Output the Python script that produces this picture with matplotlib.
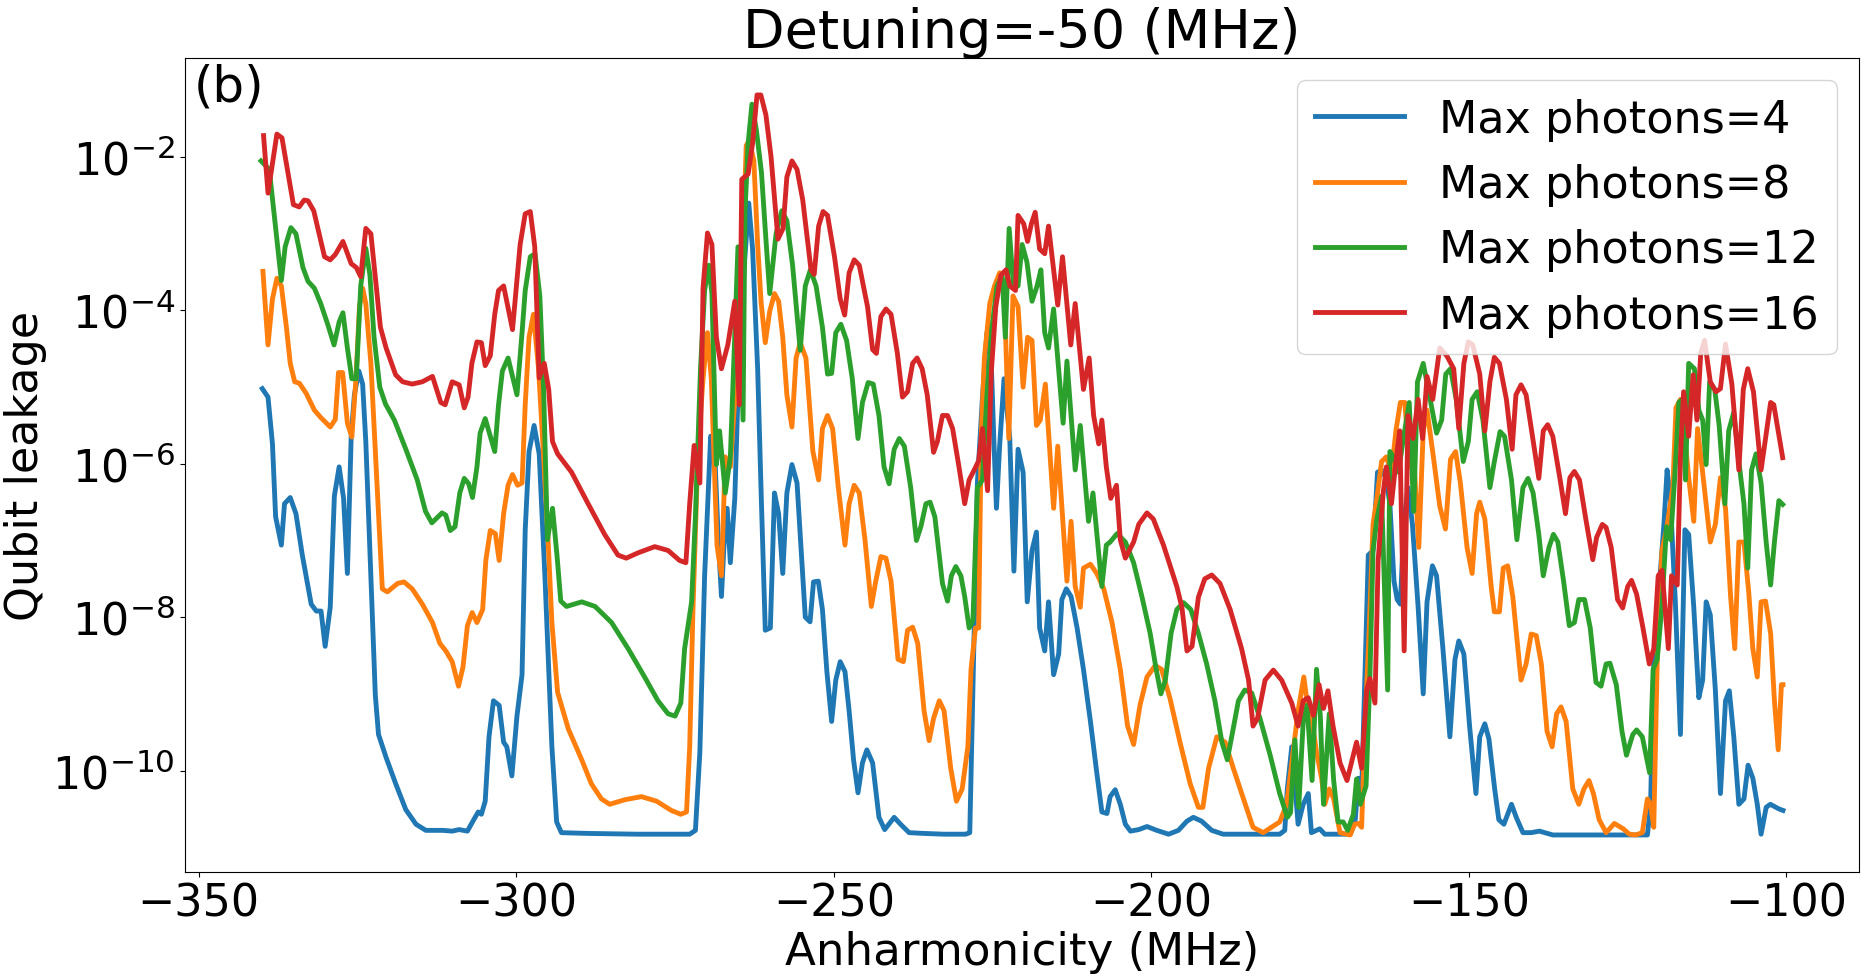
import numpy as np
import matplotlib
matplotlib.use("Agg")
import matplotlib.pyplot as plt

# ---- data (x in MHz, y given as log10 of leakage) ----
x_n4 = [-340.0, -339.1, -338.4, -337.9, -337.0, -336.5, -335.6, -334.7, -333.7, -332.3, -331.5, -330.75, -330.1, -329.3, -328.65, -327.9, -327.2, -326.6, -326.0, -325.5, -324.8, -324.2, -323.7, -322.9, -322.2, -321.7, -320.5, -319.0, -317.4, -315.8, -314.25, -311.6, -310.1, -309.0, -307.7, -306.9, -306.0, -305.5, -304.9, -304.3, -303.6, -302.7, -302.0, -301.5, -300.7, -299.9, -299.1, -298.6, -298.0, -297.2, -296.4, -295.5, -294.4, -293.65, -292.9, -288.7, -280.8, -272.7, -271.8, -271.1, -270.35, -269.4, -268.8, -268.2, -267.7, -267.3, -266.8, -266.3, -265.6, -264.9, -264.1, -263.4, -262.8, -262.0, -261.45, -260.8, -260.0, -259.35, -258.7, -258.05, -257.4, -256.6, -255.8, -255.2, -254.5, -253.75, -253.2, -252.45, -251.8, -251.1, -250.35, -249.7, -249.0, -248.25, -247.6, -246.9, -246.2, -245.5, -244.8, -243.9, -242.9, -242.0, -240.5, -239.5, -238.15, -235.8, -232.65, -229.25, -228.6, -227.9, -227.4, -226.6, -225.9, -225.4, -224.8, -224.4, -223.9, -223.2, -222.3, -221.65, -221.0, -220.2, -219.55, -218.8, -218.1, -217.6, -216.8, -216.2, -215.4, -214.6, -214.1, -213.4, -212.65, -211.7, -210.7, -209.6, -208.6, -207.8, -207.0, -206.5, -205.7, -204.9, -204.1, -203.3, -202.0, -200.7, -199.15, -197.3, -195.75, -194.4, -193.4, -192.1, -190.5, -188.7, -184.5, -179.8, -179.0, -178.6, -177.9, -177.4, -176.9, -176.1, -175.3, -174.8, -173.5, -172.7, -168.7, -167.9, -167.4, -166.9, -166.4, -165.85, -165.1, -164.4, -163.75, -163.1, -162.45, -161.8, -161.3, -160.8, -160.25, -159.6, -158.9, -158.0, -157.2, -156.6, -155.75, -155.1, -154.1, -153.0, -152.2, -151.6, -150.8, -149.9, -148.9, -148.3, -147.5, -146.85, -145.95, -145.3, -144.5, -143.3, -142.55, -141.5, -140.2, -138.9, -136.8, -131.0, -121.9, -121.4, -120.9, -120.1, -119.3, -118.8, -118.3, -117.5, -116.7, -116.0, -115.4, -114.6, -113.8, -113.2, -112.65, -112.0, -111.2, -110.4, -109.6, -109.0, -108.3, -107.5, -106.7, -106.05, -105.3, -104.6, -104.0, -103.2, -102.55, -101.2, -100.55]
logy_n4 = [-5.02, -5.13, -5.74, -6.69, -7.06, -6.52, -6.44, -6.65, -7.19, -7.83, -7.92, -7.92, -8.38, -7.87, -6.42, -6.04, -6.45, -7.43, -5.64, -5.10, -4.79, -4.96, -5.71, -7.46, -9.02, -9.53, -9.83, -10.17, -10.51, -10.70, -10.78, -10.78, -10.79, -10.77, -10.79, -10.67, -10.54, -10.57, -10.40, -9.56, -9.09, -9.15, -9.63, -9.69, -10.07, -9.29, -8.75, -6.86, -5.84, -5.50, -5.87, -7.46, -9.69, -10.67, -10.81, -10.82, -10.83, -10.83, -10.78, -9.76, -7.46, -5.64, -5.77, -6.99, -7.73, -7.06, -6.58, -7.29, -6.45, -4.56, -3.41, -2.60, -3.20, -4.76, -6.38, -8.17, -8.14, -6.38, -6.65, -7.43, -6.38, -6.01, -6.25, -7.06, -8.00, -8.06, -7.54, -7.53, -7.90, -8.71, -9.36, -8.82, -8.58, -8.71, -9.22, -9.86, -10.29, -9.90, -9.73, -9.90, -10.61, -10.77, -10.61, -10.70, -10.81, -10.82, -10.83, -10.83, -10.81, -8.14, -6.25, -5.13, -4.29, -4.22, -5.71, -6.58, -5.77, -4.89, -5.67, -7.40, -5.81, -6.11, -7.80, -7.13, -6.89, -8.14, -8.44, -7.80, -8.75, -8.48, -7.77, -7.63, -7.73, -8.14, -8.68, -9.36, -10.03, -10.54, -10.56, -10.34, -10.25, -10.44, -10.70, -10.79, -10.77, -10.73, -10.78, -10.83, -10.78, -10.66, -10.61, -10.66, -10.78, -10.83, -10.83, -10.83, -10.78, -10.24, -9.69, -10.20, -10.70, -10.44, -10.30, -10.81, -10.76, -10.83, -10.83, -10.64, -10.10, -10.30, -8.82, -7.19, -7.13, -6.11, -6.08, -6.18, -6.52, -7.53, -7.77, -7.83, -6.79, -6.31, -6.79, -7.87, -9.00, -7.80, -7.33, -7.46, -8.41, -9.56, -8.55, -8.31, -8.48, -9.42, -10.30, -9.56, -9.39, -9.59, -10.24, -10.64, -10.70, -10.44, -10.61, -10.81, -10.81, -10.79, -10.84, -10.84, -10.84, -10.44, -8.61, -7.67, -6.79, -6.08, -6.45, -7.80, -9.53, -6.86, -6.92, -7.87, -9.05, -8.82, -7.80, -7.97, -8.95, -10.30, -9.09, -8.96, -9.56, -10.44, -10.37, -9.93, -10.10, -10.44, -10.83, -10.48, -10.44, -10.50, -10.52]

x_n8 = [-339.9, -339.1, -338.4, -337.7, -337.0, -336.2, -335.6, -334.9, -334.15, -333.1, -331.8, -330.75, -329.3, -328.5, -328.0, -327.35, -326.6, -325.9, -325.25, -324.7, -324.2, -323.7, -322.9, -321.9, -321.1, -320.3, -318.7, -317.7, -316.4, -314.8, -313.2, -312.05, -311.1, -310.1, -309.1, -308.4, -307.7, -306.95, -306.2, -305.3, -304.8, -304.1, -303.3, -302.7, -302.0, -301.3, -300.6, -299.8, -299.1, -298.6, -298.0, -297.3, -296.5, -295.7, -295.0, -294.4, -293.5, -292.9, -291.8, -289.7, -288.2, -286.6, -285.3, -282.9, -280.3, -277.9, -275.6, -274.1, -273.2, -272.7, -272.2, -271.4, -270.6, -269.9, -269.3, -268.8, -268.4, -267.7, -267.1, -266.3, -265.5, -264.9, -264.3, -263.8, -263.3, -262.6, -262.0, -261.45, -260.8, -260.1, -259.35, -258.7, -258.05, -257.4, -256.6, -255.95, -255.3, -254.4, -253.3, -252.4, -251.8, -251.0, -250.2, -249.3, -248.25, -247.6, -246.8, -246.0, -245.1, -244.1, -243.4, -242.6, -241.8, -241.0, -239.9, -239.05, -238.4, -237.6, -236.8, -235.8, -235.0, -234.3, -233.4, -232.65, -231.6, -230.7, -229.8, -228.9, -228.4, -227.7, -227.2, -226.8, -226.3, -225.45, -224.7, -223.9, -223.2, -222.45, -221.8, -221.0, -220.2, -219.5, -218.8, -218.1, -217.5, -216.7, -215.4, -214.75, -213.3, -212.65, -212.0, -211.2, -210.7, -209.6, -208.6, -207.5, -206.2, -204.9, -203.75, -202.8, -201.8, -200.7, -199.4, -198.4, -197.1, -195.5, -193.9, -192.6, -191.9, -191.0, -189.7, -188.4, -187.1, -185.5, -184.0, -182.4, -181.1, -179.8, -178.7, -177.9, -176.9, -176.0, -175.3, -174.7, -174.0, -173.2, -172.7, -172.0, -171.3, -170.3, -168.7, -168.0, -167.4, -166.9, -166.4, -165.7, -165.1, -164.5, -163.75, -163.0, -162.2, -161.5, -160.8, -160.1, -159.3, -158.8, -157.9, -157.2, -156.6, -155.6, -154.6, -153.7, -152.9, -152.1, -151.35, -150.3, -149.5, -148.8, -148.3, -147.5, -146.5, -146.0, -145.2, -144.6, -143.9, -143.1, -141.8, -141.0, -140.2, -139.4, -138.6, -137.7, -136.9, -136.2, -135.5, -134.7, -133.65, -132.7, -131.9, -131.1, -130.4, -129.5, -128.4, -127.1, -125.7, -124.75, -123.75, -122.7, -121.9, -121.4, -120.9, -120.35, -119.6, -118.9, -118.4, -117.9, -117.4, -116.7, -115.9, -115.4, -114.6, -114.0, -113.3, -112.0, -111.2, -110.4, -109.6, -108.8, -108.15, -107.5, -106.7, -105.95, -105.3, -104.6, -104.0, -103.3, -102.5, -101.9, -101.3, -100.8, -100.55]
logy_n8 = [-3.49, -4.45, -3.85, -3.58, -3.68, -4.22, -4.69, -4.93, -4.95, -5.08, -5.30, -5.40, -5.52, -5.42, -4.81, -4.81, -5.47, -5.65, -4.89, -3.95, -3.71, -3.91, -4.69, -6.31, -7.63, -7.67, -7.56, -7.54, -7.63, -7.83, -8.07, -8.34, -8.44, -8.58, -8.90, -8.65, -8.11, -7.94, -8.07, -7.90, -7.26, -6.87, -6.91, -7.26, -6.65, -6.28, -6.14, -6.28, -6.25, -5.23, -4.35, -4.05, -4.76, -5.91, -6.99, -8.07, -8.98, -9.15, -9.46, -9.86, -10.17, -10.37, -10.44, -10.38, -10.34, -10.40, -10.52, -10.57, -10.54, -9.69, -7.94, -5.84, -4.89, -4.29, -4.89, -6.11, -7.06, -7.46, -5.91, -6.04, -5.03, -4.35, -3.14, -1.85, -1.78, -2.05, -3.14, -3.90, -4.42, -4.01, -3.78, -3.88, -4.35, -5.10, -5.52, -4.62, -4.42, -4.62, -5.84, -6.21, -5.54, -5.37, -5.54, -6.31, -7.06, -6.52, -6.28, -6.38, -6.99, -7.86, -7.53, -7.21, -7.23, -7.53, -8.55, -8.58, -8.17, -8.13, -8.34, -9.22, -9.61, -9.32, -9.09, -9.22, -9.97, -10.40, -10.24, -9.69, -8.68, -8.14, -8.14, -5.64, -4.62, -3.91, -3.68, -3.51, -3.68, -5.67, -3.81, -3.95, -5.00, -4.35, -4.39, -5.50, -5.43, -4.96, -6.58, -5.77, -7.53, -6.75, -7.60, -7.87, -7.36, -7.31, -7.43, -7.63, -8.07, -8.68, -9.42, -9.66, -9.15, -8.78, -8.63, -8.68, -9.05, -9.63, -10.17, -10.48, -10.48, -9.97, -9.56, -9.63, -9.97, -10.37, -10.74, -10.81, -10.74, -10.67, -10.44, -9.90, -9.22, -8.78, -9.22, -9.36, -9.76, -10.10, -10.44, -10.24, -10.37, -10.81, -10.84, -10.70, -10.69, -10.74, -9.49, -8.14, -6.79, -6.45, -5.97, -5.91, -6.11, -5.57, -5.20, -5.20, -6.04, -5.74, -7.09, -5.57, -5.30, -5.91, -6.55, -6.85, -5.94, -5.84, -6.25, -7.09, -7.43, -6.65, -6.50, -6.72, -7.60, -7.93, -7.93, -7.36, -7.33, -7.73, -8.82, -8.61, -8.22, -8.24, -8.61, -9.49, -9.69, -9.26, -9.17, -9.36, -10.24, -10.44, -10.24, -10.13, -10.30, -10.64, -10.81, -10.69, -10.76, -10.83, -10.84, -10.81, -10.37, -10.44, -10.74, -8.55, -7.13, -6.86, -6.58, -6.31, -5.27, -5.16, -5.74, -6.18, -6.75, -5.54, -6.04, -7.02, -6.79, -6.18, -6.58, -7.73, -8.41, -7.02, -7.02, -7.67, -8.41, -8.78, -7.80, -7.79, -8.21, -9.09, -9.73, -8.88, -8.88]

x_n12 = [-340.2, -338.9, -337.8, -337.0, -336.4, -335.5, -334.7, -333.6, -332.8, -331.8, -330.8, -329.7, -328.7, -327.9, -327.3, -326.6, -325.9, -325.2, -324.5, -323.7, -323.05, -322.4, -321.5, -320.6, -319.2, -317.4, -315.6, -314.3, -313.3, -311.7, -311.1, -310.4, -309.65, -308.9, -308.2, -307.5, -306.9, -306.2, -305.7, -304.9, -304.1, -303.4, -302.8, -302.2, -301.3, -300.6, -299.9, -299.1, -298.6, -297.8, -297.05, -296.3, -295.7, -295.1, -294.3, -293.6, -293.0, -292.1, -289.7, -287.6, -285.0, -282.4, -279.8, -277.7, -276.1, -275.0, -274.1, -273.5, -272.4, -271.8, -271.0, -270.35, -269.7, -269.2, -268.5, -268.0, -267.1, -266.3, -265.1, -264.3, -264.0, -263.5, -262.9, -262.2, -261.4, -260.7, -260.1, -259.1, -258.2, -257.4, -256.5, -255.3, -254.5, -253.7, -252.8, -251.8, -251.0, -250.35, -249.7, -248.9, -248.0, -247.1, -246.2, -245.5, -244.6, -243.8, -242.9, -242.1, -241.3, -240.5, -239.7, -238.9, -237.9, -237.0, -236.3, -235.5, -234.85, -234.1, -232.9, -232.1, -231.5, -230.8, -230.0, -229.4, -228.7, -228.1, -227.4, -226.6, -225.9, -225.1, -224.3, -223.5, -223.0, -222.4, -221.7, -221.0, -220.35, -219.6, -218.8, -218.0, -217.4, -216.8, -216.2, -215.4, -213.9, -213.3, -212.0, -211.2, -209.9, -209.2, -207.8, -207.1, -206.5, -205.4, -204.1, -202.8, -201.5, -200.2, -199.25, -198.5, -197.8, -196.9, -196.0, -194.95, -193.8, -192.6, -191.3, -190.0, -188.9, -188.05, -187.2, -186.3, -185.3, -184.2, -182.9, -181.3, -179.8, -178.6, -178.1, -177.4, -176.8, -176.1, -175.5, -174.7, -174.0, -173.4, -172.9, -172.0, -171.3, -170.6, -169.8, -169.1, -168.2, -167.7, -167.1, -166.2, -165.6, -165.1, -164.5, -163.75, -162.8, -162.45, -161.9, -161.1, -160.4, -159.4, -158.7, -158.1, -157.2, -156.4, -155.1, -154.3, -153.65, -152.9, -152.0, -150.9, -150.1, -149.5, -148.7, -147.8, -146.7, -146.0, -145.1, -144.4, -143.3, -142.45, -141.5, -140.7, -139.9, -139.0, -138.3, -137.4, -136.7, -136.0, -135.1, -134.2, -133.4, -132.7, -131.8, -130.9, -130.0, -129.2, -128.4, -127.8, -126.8, -125.9, -125.2, -124.2, -123.6, -122.7, -121.55, -121.0, -120.35, -119.6, -118.9, -118.25, -117.6, -116.95, -116.4, -115.9, -115.4, -114.5, -113.8, -113.2, -112.65, -112.1, -111.3, -110.6, -109.7, -109.1, -108.3, -107.5, -106.7, -106.1, -105.5, -104.8, -104.0, -103.2, -102.5, -101.9, -101.2, -100.6]
logy_n12 = [-2.05, -2.16, -3.00, -3.61, -3.17, -2.92, -3.00, -3.44, -3.62, -3.71, -3.91, -4.18, -4.45, -4.15, -4.03, -4.49, -4.89, -4.89, -3.68, -3.19, -3.54, -4.35, -5.00, -5.22, -5.43, -5.81, -6.21, -6.62, -6.77, -6.64, -6.67, -6.87, -6.82, -6.38, -6.19, -6.26, -6.44, -6.04, -5.60, -5.41, -5.64, -5.84, -5.23, -4.79, -4.62, -4.86, -5.10, -4.29, -3.74, -3.30, -3.26, -3.81, -5.03, -6.99, -6.58, -7.19, -7.79, -7.86, -7.80, -7.86, -8.07, -8.41, -8.78, -9.09, -9.26, -9.29, -9.12, -8.41, -7.80, -6.69, -4.76, -3.74, -3.41, -3.78, -6.01, -5.57, -6.38, -5.91, -3.17, -5.43, -2.73, -1.82, -1.31, -1.65, -2.20, -3.07, -3.78, -3.00, -2.70, -2.83, -3.41, -4.52, -3.68, -3.47, -3.68, -4.22, -4.83, -4.82, -4.29, -4.18, -4.39, -4.89, -5.67, -5.20, -4.94, -4.96, -5.37, -6.04, -6.26, -5.81, -5.67, -5.77, -6.31, -7.00, -6.82, -6.52, -6.50, -6.69, -7.56, -7.79, -7.46, -7.34, -7.46, -7.73, -8.14, -8.04, -6.31, -6.21, -5.10, -4.22, -3.68, -3.54, -4.35, -2.93, -3.71, -3.68, -3.14, -3.37, -3.88, -3.68, -3.47, -4.29, -4.49, -3.98, -5.47, -4.66, -6.08, -5.50, -6.75, -6.38, -7.60, -7.06, -7.02, -6.91, -7.02, -7.29, -7.73, -8.21, -8.68, -9.00, -8.82, -8.21, -7.90, -7.81, -7.90, -8.21, -8.61, -9.09, -9.63, -9.86, -9.49, -9.09, -8.95, -8.99, -9.32, -9.80, -10.30, -10.61, -10.55, -9.60, -10.48, -9.36, -9.15, -10.13, -8.68, -9.29, -10.44, -9.26, -10.13, -10.67, -10.67, -10.78, -10.57, -10.11, -10.44, -10.20, -8.79, -7.13, -6.72, -6.42, -8.95, -5.84, -5.91, -6.11, -5.71, -5.20, -6.62, -4.93, -4.69, -5.03, -5.60, -5.43, -4.83, -4.76, -5.16, -5.97, -5.71, -5.16, -5.06, -5.43, -6.31, -5.97, -5.58, -5.64, -6.21, -6.99, -6.31, -6.19, -6.38, -6.92, -7.46, -7.09, -6.92, -7.02, -7.53, -8.11, -8.07, -7.77, -7.77, -8.14, -8.85, -8.90, -8.61, -8.60, -8.88, -9.49, -9.80, -9.53, -9.47, -9.56, -10.03, -8.68, -8.55, -7.84, -6.82, -6.99, -6.18, -5.20, -5.16, -6.21, -4.69, -4.76, -5.30, -5.43, -6.01, -4.93, -5.03, -5.50, -6.52, -5.57, -5.33, -5.97, -6.52, -7.36, -6.08, -5.87, -6.25, -7.02, -7.58, -7.02, -6.48, -6.53]

x_n16 = [-339.8, -339.1, -337.7, -336.9, -335.1, -334.2, -333.4, -332.8, -331.9, -330.2, -329.3, -328.5, -327.3, -326.0, -325.2, -324.5, -323.7, -322.9, -321.4, -320.5, -319.0, -317.9, -316.4, -314.8, -313.2, -311.9, -311.2, -310.1, -309.0, -308.2, -307.6, -307.0, -306.2, -305.5, -304.9, -304.1, -303.4, -302.8, -302.0, -300.6, -299.4, -298.6, -297.8, -297.1, -296.4, -295.6, -294.9, -294.3, -293.5, -291.3, -288.7, -286.1, -284.0, -282.7, -280.8, -278.2, -276.1, -274.3, -273.3, -272.7, -272.0, -271.1, -270.6, -269.9, -269.2, -268.5, -267.7, -266.7, -265.6, -264.9, -264.5, -263.5, -262.8, -262.1, -261.5, -260.7, -259.9, -258.8, -258.0, -257.4, -256.6, -255.8, -254.9, -253.6, -253.1, -252.4, -251.7, -251.0, -249.9, -249.0, -248.3, -247.6, -246.8, -246.0, -244.7, -243.9, -243.3, -242.6, -241.8, -241.0, -240.0, -239.2, -238.4, -237.6, -236.9, -236.1, -235.3, -234.3, -233.7, -232.9, -232.1, -231.3, -230.3, -229.4, -228.7, -227.9, -227.2, -226.6, -225.8, -225.2, -224.5, -223.7, -222.9, -222.3, -221.4, -221.0, -220.1, -219.5, -218.9, -218.3, -217.6, -216.8, -216.2, -214.75, -214.0, -212.7, -212.0, -210.7, -209.8, -209.1, -208.3, -207.8, -207.1, -206.4, -205.5, -204.9, -204.1, -202.8, -202.0, -200.7, -199.7, -198.1, -196.0, -195.2, -194.4, -193.6, -192.6, -191.6, -190.5, -189.2, -187.6, -185.8, -184.7, -184.0, -183.3, -182.1, -180.8, -179.5, -177.9, -176.9, -176.1, -175.3, -174.5, -173.6, -172.9, -172.2, -171.4, -170.3, -169.2, -167.7, -166.9, -166.1, -165.6, -164.8, -164.3, -163.5, -163.0, -162.2, -161.5, -160.9, -160.2, -159.6, -158.8, -158.0, -157.3, -156.6, -155.7, -154.6, -153.5, -152.4, -151.6, -150.8, -150.1, -149.4, -148.3, -147.5, -146.7, -146.0, -145.2, -144.1, -143.2, -142.6, -141.8, -141.0, -140.0, -139.0, -138.3, -137.6, -136.8, -135.7, -134.8, -134.1, -133.4, -132.6, -131.6, -130.5, -129.9, -129.0, -128.4, -127.6, -126.6, -125.8, -125.0, -124.4, -123.6, -122.6, -121.6, -120.9, -120.2, -119.6, -118.6, -118.1, -117.2, -116.7, -116.2, -115.4, -114.7, -114.1, -113.5, -112.9, -112.0, -111.1, -110.4, -109.6, -108.6, -107.5, -106.8, -106.1, -105.2, -104.0, -102.5, -102.0, -100.6]
logy_n16 = [-1.72, -2.47, -1.70, -1.75, -2.62, -2.65, -2.56, -2.57, -2.70, -3.30, -3.34, -3.27, -3.10, -3.39, -3.44, -3.56, -2.93, -3.00, -4.22, -4.49, -4.84, -4.93, -4.96, -4.93, -4.86, -5.20, -5.23, -4.93, -4.97, -5.27, -5.13, -4.69, -4.41, -4.42, -4.72, -4.59, -4.05, -3.74, -3.68, -4.25, -3.14, -2.74, -2.71, -3.17, -4.88, -4.69, -5.03, -5.71, -5.87, -6.11, -6.52, -6.92, -7.19, -7.23, -7.16, -7.08, -7.13, -7.26, -7.29, -6.52, -5.76, -6.25, -3.71, -2.99, -3.14, -4.35, -4.76, -4.45, -3.88, -5.23, -2.29, -2.22, -1.82, -1.19, -1.19, -1.45, -1.99, -3.07, -2.93, -2.26, -2.05, -2.16, -2.56, -3.47, -3.53, -2.90, -2.71, -2.76, -3.30, -3.85, -4.06, -3.51, -3.34, -3.41, -3.95, -4.51, -4.56, -4.08, -3.98, -4.05, -4.56, -5.13, -5.06, -4.69, -4.62, -4.76, -5.10, -5.85, -5.71, -5.37, -5.37, -5.54, -6.04, -6.52, -6.21, -6.08, -5.96, -5.54, -6.35, -4.79, -3.95, -3.54, -3.47, -3.68, -3.74, -2.76, -2.87, -3.10, -2.87, -2.72, -3.20, -3.26, -2.90, -3.93, -3.30, -4.45, -3.91, -5.03, -4.62, -5.37, -5.74, -5.43, -6.04, -6.45, -6.28, -6.99, -7.23, -7.02, -6.79, -6.64, -6.72, -7.06, -7.60, -7.87, -8.44, -8.38, -7.74, -7.50, -7.45, -7.56, -7.90, -8.41, -8.82, -9.42, -9.32, -8.82, -8.69, -8.82, -9.12, -9.42, -9.09, -9.05, -9.28, -8.88, -9.19, -8.96, -9.42, -9.90, -10.13, -9.63, -9.97, -8.95, -8.80, -9.12, -7.26, -6.38, -6.04, -6.52, -5.97, -5.57, -8.44, -5.37, -5.67, -5.16, -5.67, -4.86, -5.16, -4.49, -4.59, -4.76, -5.54, -4.69, -4.41, -4.45, -4.83, -5.57, -4.93, -4.61, -4.69, -5.16, -5.81, -5.10, -4.97, -5.10, -5.64, -6.19, -5.57, -5.49, -5.64, -6.18, -6.65, -6.18, -6.10, -6.21, -6.72, -7.25, -6.96, -6.79, -6.83, -7.09, -7.77, -7.88, -7.60, -7.52, -7.70, -8.14, -8.61, -8.41, -7.46, -7.39, -8.41, -7.46, -7.58, -5.91, -5.06, -5.64, -4.84, -5.43, -4.56, -4.39, -4.93, -5.06, -5.02, -4.44, -4.96, -6.08, -5.03, -4.76, -5.06, -6.08, -5.20, -5.23, -5.92]

series = [
    (x_n4, logy_n4, "Max photons=4"),
    (x_n8, logy_n8, "Max photons=8"),
    (x_n12, logy_n12, "Max photons=12"),
    (x_n16, logy_n16, "Max photons=16"),
]

title_text = "Detuning=-50 (MHz)"
xlabel_text = "Anharmonicity (MHz)"
ylabel_text = "Qubit leakage"
panel_text = "(b)"
y_ticks = [1e-10, 1e-8, 1e-6, 1e-4, 1e-2]

fig = plt.figure(figsize=(18.66, 9.78), dpi=100)
ax = fig.add_axes([0.0991, 0.1074, 0.8972, 0.8323])

for xs, ly, lab in series:
    ax.plot(xs, 10.0 ** np.array(ly), lw=3.5, label=lab)

ax.set_yscale("log")
ax.set_yticks(y_ticks)
ax.yaxis.set_minor_locator(matplotlib.ticker.NullLocator())
ax.tick_params(axis="both", labelsize=32)
ax.set_xlabel(xlabel_text, fontsize=32.5)
ax.set_ylabel(ylabel_text, fontsize=32)
ax.set_title(title_text, fontsize=39)
ax.text(0.0054, 0.995, panel_text, transform=ax.transAxes, fontsize=36,
        ha="left", va="top")
ax.legend(loc="upper right", fontsize=32)

fig.savefig("out.png", dpi=100)
